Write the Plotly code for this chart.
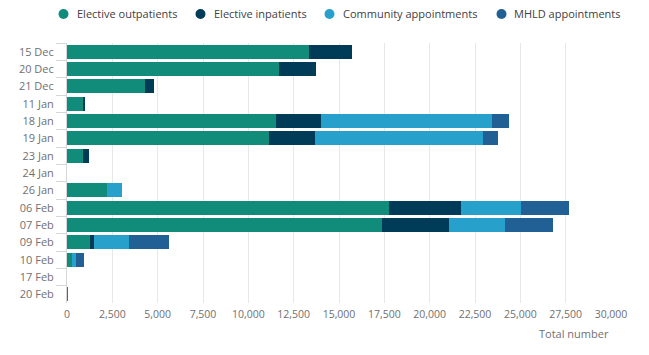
import plotly.graph_objects as go

dates = ["15 Dec", "20 Dec", "21 Dec", "11 Jan", "18 Jan", "19 Jan", "23 Jan", "24 Jan",
         "26 Jan", "06 Feb", "07 Feb", "09 Feb", "10 Feb", "17 Feb", "20 Feb"]

elective_outpatients = [13350, 11690, 4300, 900, 11530, 11140, 870, 0,
                        2230, 17760, 17350, 1270, 250, 0, 50]
elective_inpatients = [2380, 2050, 520, 90, 2490, 2550, 330, 0,
                       0, 3970, 3710, 220, 0, 0, 0]
community_appointments = [0, 0, 0, 0, 9420, 9240, 0, 0,
                          800, 3330, 3120, 1940, 240, 0, 0]
mhld_appointments = [0, 0, 0, 0, 930, 840, 0, 0,
                     0, 2620, 2620, 2170, 420, 0, 0]

series_names = ["Elective outpatients", "Elective inpatients",
                "Community appointments", "MHLD appointments"]
series_values = [elective_outpatients, elective_inpatients,
                 community_appointments, mhld_appointments]
colors = ["#118c7b", "#003c57", "#27a0cc", "#206095"]

x_ticks = list(range(0, 30001, 2500))

FONT = "Open Sans"
W, H = 649, 355
ML, MR, MT, MB = 67, 38, 43, 52
PW, PH = W - ML - MR, H - MT - MB


def px_to_paper_x(px):
    return (px - ML) / PW


def px_to_paper_y(py):
    return (H - MB - py) / PH


fig = go.Figure()
for name, vals, col in zip(series_names, series_values, colors):
    fig.add_trace(go.Bar(
        y=dates, x=vals, name=name, orientation="h",
        marker=dict(color=col, line=dict(width=0)),
        showlegend=False,
    ))

# Manual legend (circle markers + text), laid out like the reference
legend_circle_px = [63.5, 200.5, 329.5, 501.5]
legend_text_px = [75, 212, 341, 512]
legend_y_px = 14
shapes = []
annotations = []
for name, col, cx, tx in zip(series_names, colors, legend_circle_px, legend_text_px):
    shapes.append(dict(type="circle", xref="paper", yref="paper",
                       xsizemode="pixel", ysizemode="pixel",
                       xanchor=px_to_paper_x(cx), yanchor=px_to_paper_y(legend_y_px),
                       x0=-5, x1=5, y0=-5, y1=5,
                       fillcolor=col, line=dict(width=0)))
    annotations.append(dict(text=name, xref="paper", yref="paper",
                            x=px_to_paper_x(tx), y=px_to_paper_y(legend_y_px),
                            xanchor="left", yanchor="middle", showarrow=False,
                            font=dict(size=11, color="#414042")))

annotations.append(dict(text="Total number", xref="paper", yref="paper",
                        x=px_to_paper_x(611), y=px_to_paper_y(333),
                        xanchor="right", yanchor="middle", showarrow=False,
                        font=dict(size=11, color="#707071")))

fig.update_layout(
    width=W, height=H,
    barmode="stack", bargap=0.2,
    plot_bgcolor="white", paper_bgcolor="white",
    font=dict(family=FONT, size=11, color="#707071"),
    margin=dict(l=ML, r=MR, t=MT, b=MB, autoexpand=False),
    showlegend=False,
    xaxis=dict(range=[0, 30000], tickvals=x_ticks, tickformat=",",
               showgrid=True, gridcolor="#e8e8e8", gridwidth=1,
               zeroline=False, showline=False, ticks="",
               ticklabelstandoff=3, automargin=False,
               tickfont=dict(size=10.5, color="#707071")),
    yaxis=dict(autorange="reversed", type="category",
               showline=True, linecolor="#d6d6d6", linewidth=1,
               ticks="outside", tickson="boundaries", ticklen=10,
               tickcolor="#d6d6d6", showgrid=False, automargin=False,
               ticklabelstandoff=10,
               tickfont=dict(size=11, color="#707071")),
    shapes=shapes,
    annotations=annotations,
)

fig.write_html("out.html",
               config={"displayModeBar": False},
               post_script="document.body.style.margin='0';document.body.style.overflow='hidden';")
